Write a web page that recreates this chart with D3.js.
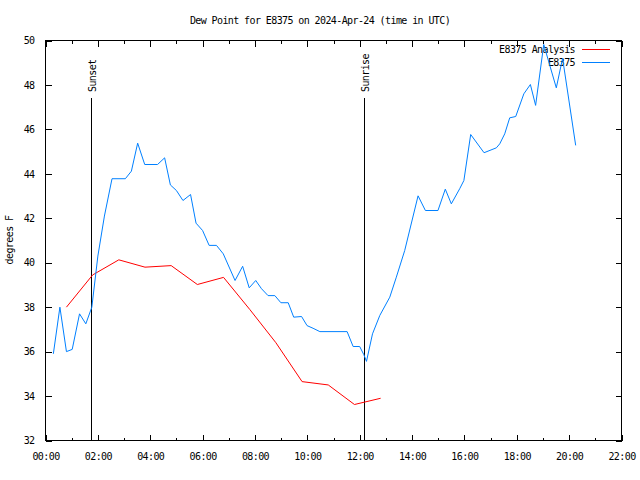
<!DOCTYPE html>
<html>
<head>
<meta charset="utf-8">
<script src="https://cdn.jsdelivr.net/npm/d3@7"></script>
<style>
  body { margin: 0; background: #fff; }
  svg { display: block; }
  text { font-family: "DejaVu Sans Mono", "Liberation Mono", monospace; font-size: 10px; letter-spacing: -0.6px; fill: #000; }
</style>
</head>
<body>
<svg id="chart" width="640" height="480"></svg>
<script>
const title = "Dew Point for E8375 on 2024-Apr-24 (time in UTC)";
const yLabel = "degrees F";
const seriesNames = ["E8375 Analysis", "E8375"];
const seriesColors = ["#ff0000", "#0080ff"];

// hours (UTC) and dew point (F) for the analysis series
const analysisHours = [0.8, 1.8, 2.8, 3.8, 4.8, 5.8, 6.8, 7.8, 8.8, 9.8, 10.8, 11.8, 12.8];
const analysisValues = [38.0, 39.45, 40.13, 39.8, 39.87, 39.02, 39.34, 37.9, 36.4, 34.65, 34.5, 33.62, 33.9];

// hours (UTC) and dew point (F) for the station observations
const obsHours = [0.3, 0.55, 0.8, 1.02, 1.3, 1.54, 1.77, 2.0, 2.25, 2.54, 3.05, 3.28, 3.52, 3.79, 4.28, 4.55, 4.77,
  5.0, 5.25, 5.54, 5.75, 6.0, 6.25, 6.53, 6.79, 7.24, 7.53, 7.78, 8.03, 8.25, 8.5, 8.76, 8.99, 9.27, 9.48,
  9.78, 9.99, 10.22, 10.48, 11.52, 11.75, 12.0, 12.16, 12.26, 12.49, 12.77, 13.15, 13.4, 13.72, 14.23,
  14.51, 14.99, 15.27, 15.5, 15.82, 15.98, 16.24, 16.75, 17.22, 17.35, 17.54, 17.73, 17.96, 18.27, 18.52,
  18.72, 19.03, 19.51, 19.75, 20.25];
const obsValues = [35.9, 38.0, 36.0, 36.1, 37.7, 37.25, 38.0, 40.3, 42.1, 43.78, 43.78, 44.12, 45.38, 44.42, 44.42, 44.72, 43.5,
  43.25, 42.8, 43.07, 41.78, 41.45, 40.78, 40.78, 40.4, 39.2, 39.84, 38.87, 39.2, 38.83, 38.52, 38.52, 38.2, 38.2, 37.55,
  37.58, 37.17, 37.05, 36.9, 36.9, 36.23, 36.23, 35.86, 35.56, 36.8, 37.63, 38.45, 39.35, 40.55, 43.01,
  42.35, 42.35, 43.31, 42.65, 43.33, 43.7, 45.77, 44.95, 45.17, 45.35, 45.8, 46.52, 46.58, 47.6, 48.02,
  47.08, 49.82, 47.87, 49.2, 45.28];

const sunEventNames = ["Sunset", "Sunrise"];
const sunEventHours = [1.75, 12.16];

const xTickHours = d3.range(0, 23, 2);
const xMinorHours = d3.range(1, 22, 2);
const yTickValues = d3.range(32, 51, 2);

const svg = d3.select("#chart");
const L = 45.5, R = 621.5, T = 40.5, B = 440.5;
const x = d3.scaleLinear().domain([0, 22]).range([L, R]);
const y = d3.scaleLinear().domain([32, 50]).range([B, T]);
const fmtH = h => String(h).padStart(2, "0") + ":00";

// title
svg.append("text").attr("x", 320).attr("y", 23.5).attr("text-anchor", "middle").text(title);

// y axis label
svg.append("text").attr("transform", "translate(13,240) rotate(-90)")
  .attr("text-anchor", "middle").text(yLabel);

// border
svg.append("rect").attr("x", L).attr("y", T).attr("width", R - L).attr("height", B - T)
  .attr("fill", "none").attr("stroke", "#000").attr("stroke-width", 1).attr("shape-rendering", "crispEdges");

// axes via d3
const xAxis = d3.axisBottom(x).tickValues(xTickHours).tickFormat(fmtH).tickSizeInner(-6).tickSizeOuter(0).tickPadding(12);
svg.append("g").attr("transform", `translate(0,${B})`).call(xAxis);
svg.append("g").attr("transform", `translate(0,${B})`).call(d3.axisBottom(x).tickValues(xMinorHours).tickFormat("").tickSizeInner(-3).tickSizeOuter(0));
svg.append("g").attr("transform", `translate(0,${T})`).call(d3.axisTop(x).tickValues(xTickHours).tickFormat("").tickSizeInner(-6).tickSizeOuter(0));
svg.append("g").attr("transform", `translate(0,${T})`).call(d3.axisTop(x).tickValues(xMinorHours).tickFormat("").tickSizeInner(-3).tickSizeOuter(0));

const yAxis = d3.axisLeft(y).tickValues(yTickValues).tickFormat(d3.format("d")).tickSizeInner(-6).tickSizeOuter(0).tickPadding(11);
svg.append("g").attr("transform", `translate(${L},0)`).call(yAxis);
svg.append("g").attr("transform", `translate(${R},0)`).call(d3.axisRight(y).tickValues(yTickValues).tickFormat("").tickSizeInner(-6).tickSizeOuter(0));

svg.selectAll(".domain").remove();
svg.selectAll(".tick line").attr("stroke", "#000").attr("shape-rendering", "crispEdges");
svg.selectAll(".tick text").attr("font-family", null).attr("font-size", null).attr("fill", "#000");

// sunrise / sunset lines
sunEventHours.forEach((h, i) => {
  const xp = Math.round(x(h)) + 0.5;
  svg.append("line").attr("x1", xp).attr("x2", xp).attr("y1", 98).attr("y2", B)
    .attr("stroke", "#000").attr("shape-rendering", "crispEdges");
  svg.append("text").attr("transform", `translate(${xp + 1},92) rotate(-90)`)
    .attr("dy", "0.35em").text(sunEventNames[i]);
});

// series
const line = d3.line().x(d => x(d[0])).y(d => y(d[1]));
const analysis = analysisHours.map((h, i) => [h, analysisValues[i]]);
const obs = obsHours.map((h, i) => [h, obsValues[i]]);

// legend
const legendY = [49, 62];
seriesNames.forEach((n, i) => {
  svg.append("text").attr("x", 575).attr("y", legendY[i] + 3.5).attr("text-anchor", "end").text(n);
  svg.append("line").attr("x1", 582).attr("x2", 610).attr("y1", legendY[i] + 0.5).attr("y2", legendY[i] + 0.5)
    .attr("stroke", seriesColors[i]).attr("stroke-width", 1).attr("shape-rendering", "crispEdges");
});

svg.append("path").datum(analysis).attr("d", line).attr("fill", "none")
  .attr("stroke", seriesColors[0]).attr("stroke-width", 1);
svg.append("path").datum(obs).attr("d", line).attr("fill", "none")
  .attr("stroke", seriesColors[1]).attr("stroke-width", 1);
</script>
</body>
</html>
